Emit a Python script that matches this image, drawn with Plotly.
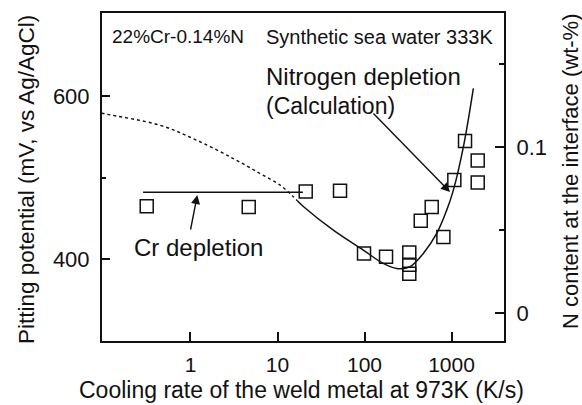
import plotly.graph_objects as go

# ---- data ----
rate_exp = [0.314, 4.67, 21.1, 52.3, 98.7, 176.7, 327, 327, 327, 443, 592, 806, 1077, 1429, 2000, 2000]
pit_exp = [465, 464, 483, 484, 407, 403, 408, 393, 382, 447, 464, 427, 497, 545, 521, 494]

cr_rate = [0.285, 19.6]
cr_pot = [482, 482]

n_rate_dash = [0.095, 0.1088, 0.446, 1.18, 3.10, 6.30, 10.7, 14.6, 17.0]
n_cont_dash = [0.1202, 0.1196, 0.1130, 0.1040, 0.0930, 0.0840, 0.0770, 0.0710, 0.0675]

n_rate_solid = [17.0, 19.8, 43.8, 96.9, 164, 234, 333, 474, 676, 881, 1050, 1368, 1782]
n_cont_solid = [0.0675, 0.0642, 0.050, 0.038, 0.030, 0.027, 0.028, 0.036, 0.048, 0.062, 0.074, 0.100, 0.1352]

x_ticks = [1, 10, 100, 1000]
x_ticktext = ["1", "10", "100", "1000"]
y_ticks = [400, 600]
y_minor = [500]
y2_ticks = [0, 0.1]
y2_ticktext = ["0", "0.1"]
y2_minor = [0.05, 0.15]

FONT = "Liberation Sans, Arial, Helvetica, sans-serif"
INK = "#111111"

# plot-area geometry (pixels)
W, H = 582, 405
L, R, T, B = 102, 504, 13, 341


def px(xp):
    return (xp - L) / (R - L)


def py(yp):
    return (B - yp) / (B - T)


fig = go.Figure()

fig.add_trace(go.Scatter(
    x=n_rate_dash, y=n_cont_dash, yaxis="y2", mode="lines",
    line=dict(color=INK, width=1.4, dash="3px,3px", shape="spline"),
    showlegend=False, hoverinfo="skip"))
fig.add_trace(go.Scatter(
    x=n_rate_solid, y=n_cont_solid, yaxis="y2", mode="lines",
    line=dict(color=INK, width=1.5, shape="spline"),
    showlegend=False, hoverinfo="skip"))
fig.add_trace(go.Scatter(
    x=cr_rate, y=cr_pot, mode="lines",
    line=dict(color=INK, width=1.5), showlegend=False, hoverinfo="skip"))
fig.add_trace(go.Scatter(
    x=rate_exp, y=pit_exp, mode="markers",
    marker=dict(symbol="square-open", size=13, color=INK, line=dict(width=1.5, color=INK)),
    showlegend=False))

annotations = [
    dict(text="22%Cr-0.14%N", x=px(110), y=py(37), xanchor="left", yanchor="middle",
         font=dict(size=19)),
    dict(text="Synthetic sea water 333K", x=px(495), y=py(37), xanchor="right", yanchor="middle",
         font=dict(size=20)),
    dict(text="Nitrogen depletion", x=px(264), y=py(77), xanchor="left", yanchor="middle",
         font=dict(size=24)),
    dict(text="(Calculation)", x=px(264), y=py(106), xanchor="left", yanchor="middle",
         font=dict(size=23)),
    dict(text="Cr depletion", x=px(198), y=py(247), xanchor="center", yanchor="middle",
         font=dict(size=24)),
    dict(text="Cooling rate of the weld metal at 973K (K/s)", x=px(301.5), y=py(390),
         xanchor="center", yanchor="middle", font=dict(size=23)),
    dict(text="Pitting potential (mV, vs Ag/AgCl)", x=px(26), y=py(180), textangle=-90,
         xanchor="center", yanchor="middle", font=dict(size=22.5)),
    dict(text="N content at the interface (wt-%)", x=px(570), y=py(172), textangle=-90,
         xanchor="center", yanchor="middle", font=dict(size=22)),
    # arrows
    dict(text="", x=px(197.3), y=py(195), ax=-7, ay=36, showarrow=True,
         arrowhead=2, arrowsize=1.3, arrowwidth=1.4, arrowcolor=INK),
    dict(text="", x=px(450), y=py(192), ax=-78, ay=-80, showarrow=True,
         arrowhead=2, arrowsize=1.3, arrowwidth=1.4, arrowcolor=INK),
]
for a in annotations:
    a.setdefault("xref", "paper")
    a.setdefault("yref", "paper")
    a.setdefault("showarrow", False)
    if "font" in a:
        a["font"].update(family=FONT, color=INK)

fig.update_layout(
    width=W, height=H,
    margin=dict(l=L, r=W - R, t=T, b=H - B, autoexpand=False),
    paper_bgcolor="white", plot_bgcolor="white",
    font=dict(family=FONT, color=INK, size=22),
    annotations=annotations,
    xaxis=dict(
        type="log", range=[-1.017, 3.603],
        tickvals=x_ticks, ticktext=x_ticktext,
        ticks="inside", ticklen=9, tickwidth=1.5, tickcolor=INK,
        showline=True, linewidth=2, linecolor=INK, mirror=True,
        showgrid=False, zeroline=False, ticklabelstandoff=4,
        tickfont=dict(size=21)),
    yaxis=dict(
        range=[299.4, 702.2], tickvals=y_ticks,
        ticks="inside", ticklen=8, tickwidth=1.5, tickcolor=INK,
        minor=dict(tickvals=y_minor, ticks="inside", ticklen=4, tickwidth=1.5, tickcolor=INK),
        showline=True, linewidth=2, linecolor=INK,
        showgrid=False, zeroline=False, ticklabelstandoff=6,
        tickfont=dict(size=22)),
    yaxis2=dict(
        overlaying="y", side="right", range=[-0.0166, 0.1804],
        tickvals=y2_ticks, ticktext=y2_ticktext,
        ticks="inside", ticklen=9, tickwidth=1.5, tickcolor=INK,
        minor=dict(tickvals=y2_minor, ticks="inside", ticklen=5, tickwidth=1.5, tickcolor=INK),
        showline=True, linewidth=2, linecolor=INK,
        showgrid=False, zeroline=False, ticklabelstandoff=6,
        tickfont=dict(size=22)),
)

fig.write_html("out.html")
